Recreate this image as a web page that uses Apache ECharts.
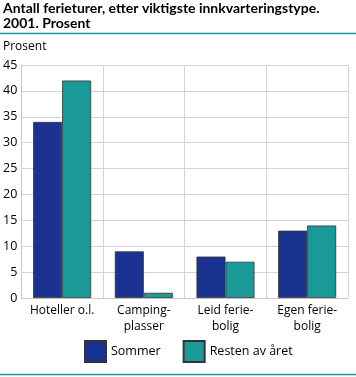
<!DOCTYPE html>
<html><head><meta charset="utf-8">
<script src="https://cdn.jsdelivr.net/npm/echarts@6/dist/echarts.min.js"></script>
<style>html,body{margin:0;padding:0;background:#fff}#c{width:356px;height:377px}</style>
</head><body><div id="c"></div>
<script>
var categories = ['Hoteller o.l.', 'Camping-\nplasser', 'Leid ferie-\nbolig', 'Egen ferie-\nbolig'];
var sommer = [34, 9, 8, 13];
var resten = [42, 1, 7, 14];
var yTicks = [0, 5, 10, 15, 20, 25, 30, 35, 40, 45];
var seriesNames = ['Sommer', 'Resten av året'];
var titleText = 'Antall ferieturer, etter viktigste innkvarteringstype.\n2001. Prosent';
var unitText = 'Prosent';

var FONT = 'Open Sans';
var chart = echarts.init(document.getElementById('c'), null, {renderer: 'canvas'});
chart.setOption({
  animation: false,
  textStyle: {fontFamily: FONT},
  title: {
    text: titleText, left: 3, top: 1, padding: 0,
    textStyle: {fontFamily: 'Lato', fontSize: 14, fontWeight: 'bold', color: '#000', lineHeight: 15}
  },
  graphic: [
    {type: 'line', shape: {x1: 0, y1: 33.5, x2: 356, y2: 33.5}, style: {stroke: '#1a9999', lineWidth: 1.5}},
    {type: 'line', shape: {x1: 0, y1: 374.5, x2: 356, y2: 374.5}, style: {stroke: '#1a9999', lineWidth: 1.5}},
    {type: 'text', left: 3, top: 41, style: {text: unitText, font: '12px "Open Sans"', fill: '#000'}}
  ],
  legend: {
    data: seriesNames, top: 335, left: 79, icon: 'rect',
    itemWidth: 21, itemHeight: 21, itemGap: 22,
    textStyle: {fontFamily: FONT, fontSize: 12.5, color: '#000'}
  },
  grid: {left: 20, right: 8, top: 65, bottom: 79},
  xAxis: {
    type: 'category', data: categories,
    axisLine: {lineStyle: {color: '#c8c8c8'}},
    axisTick: {show: false},
    splitLine: {show: true, interval: 0, lineStyle: {color: '#d4d4d4'}},
    axisLabel: {interval: 0, fontFamily: FONT, fontSize: 12, color: '#000', lineHeight: 16, margin: 5}
  },
  yAxis: {
    type: 'value', min: yTicks[0], max: yTicks[yTicks.length - 1], interval: 5,
    axisLine: {show: true, lineStyle: {color: '#c8c8c8'}},
    axisTick: {show: false},
    splitLine: {lineStyle: {color: '#d4d4d4'}},
    axisLabel: {fontFamily: FONT, fontSize: 12.5, color: '#000', margin: 4}
  },
  series: [
    {name: seriesNames[0], type: 'bar', data: sommer, barGap: '0%', barCategoryGap: '29%',
     itemStyle: {color: '#1a3391', borderColor: '#333', borderWidth: 0.8}},
    {name: seriesNames[1], type: 'bar', data: resten,
     itemStyle: {color: '#1a9999', borderColor: '#333', borderWidth: 0.8}}
  ]
});
</script></body></html>
